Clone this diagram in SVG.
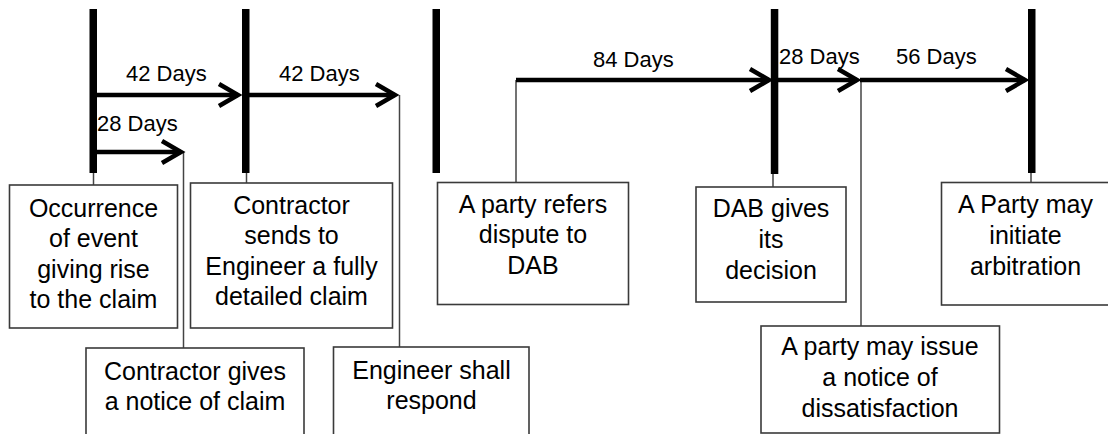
<svg xmlns="http://www.w3.org/2000/svg" width="1108" height="434" viewBox="0 0 1108 434">
<style>
.bar{fill:#000}
.arr{stroke:#000;stroke-width:4.5;fill:none;marker-end:url(#head)}
.link{stroke:#444;stroke-width:1.5;fill:none}
.box{fill:#fff;stroke:#3a3a3a;stroke-width:1.6}
.lbl{font-family:"Liberation Sans",Arial,sans-serif;font-size:22px;fill:#000}
.txt{font-family:"Liberation Sans",Arial,sans-serif;font-size:25px;fill:#000;text-anchor:middle}
</style>
<defs>
<marker id="head" markerUnits="userSpaceOnUse" markerWidth="30" markerHeight="30" viewBox="-25 -15 30 30" refX="0" refY="0" orient="auto" overflow="visible">
<path d="M-19,-11 L0,0 L-19,11" fill="none" stroke="#000" stroke-width="4.5" stroke-linejoin="miter"/>
</marker>
</defs>
<rect width="1108" height="434" fill="#fff"/>
<g id="connectors">
<line class="link" x1="93.5" y1="170" x2="93.5" y2="185"/>
<line class="link" x1="246.5" y1="170" x2="246.5" y2="183"/>
<line class="link" x1="183.5" y1="152" x2="183.5" y2="348"/>
<line class="link" x1="399.5" y1="95" x2="399.5" y2="347"/>
<line class="link" x1="516" y1="80" x2="516" y2="183"/>
<line class="link" x1="773" y1="170" x2="773" y2="187"/>
<line class="link" x1="861" y1="80" x2="861" y2="326"/>
<line class="link" x1="1031" y1="170" x2="1031" y2="182"/>
<line class="arr" x1="93" y1="95" x2="238" y2="95"/>
<line class="arr" x1="245" y1="95" x2="395" y2="95"/>
<line class="arr" x1="93" y1="152" x2="181" y2="152"/>
<line class="arr" x1="516" y1="80" x2="769" y2="80"/>
<line class="arr" x1="775" y1="80" x2="857" y2="80"/>
<line class="arr" x1="860" y1="80" x2="1025" y2="80"/>
<text class="lbl" x="126" y="81">42 Days</text>
<text class="lbl" x="279" y="81">42 Days</text>
<text class="lbl" x="97" y="131">28 Days</text>
<text class="lbl" x="593" y="67">84 Days</text>
<text class="lbl" x="779" y="64">28 Days</text>
<text class="lbl" x="896" y="64">56 Days</text>
</g>
<g id="bars">
<rect class="bar" x="89.5" y="9" width="7.5" height="164"/>
<rect class="bar" x="242" y="9" width="7.5" height="164"/>
<rect class="bar" x="432.5" y="9" width="7.5" height="164"/>
<rect class="bar" x="770.8" y="9" width="7.5" height="165"/>
<rect class="bar" x="1028" y="9" width="7.5" height="164"/>
</g>
<g id="n1">
<rect class="box" x="9.5" y="185" width="168" height="143"/>
<text class="txt" x="93.5" y="216.5">Occurrence</text>
<text class="txt" x="93.5" y="247">of event</text>
<text class="txt" x="93.5" y="277.5">giving rise</text>
<text class="txt" x="93.5" y="308">to the claim</text>
</g>
<g id="n2">
<rect class="box" x="190.5" y="183" width="202" height="145"/>
<text class="txt" x="291.5" y="213.5">Contractor</text>
<text class="txt" x="291.5" y="244">sends to</text>
<text class="txt" x="291.5" y="274.5">Engineer a fully</text>
<text class="txt" x="291.5" y="305">detailed claim</text>
</g>
<g id="n3">
<rect class="box" x="86" y="348" width="218" height="100"/>
<text class="txt" x="195" y="379.5">Contractor gives</text>
<text class="txt" x="195" y="409.5">a notice of claim</text>
</g>
<g id="n4">
<rect class="box" x="333.5" y="347" width="195.5" height="100"/>
<text class="txt" x="431.5" y="378.5">Engineer shall</text>
<text class="txt" x="431.5" y="408.5">respond</text>
</g>
<g id="n5">
<rect class="box" x="437.5" y="182.5" width="191" height="122"/>
<text class="txt" x="533" y="212.5">A party refers</text>
<text class="txt" x="533" y="243">dispute to</text>
<text class="txt" x="533" y="273.5">DAB</text>
</g>
<g id="n6">
<rect class="box" x="696" y="187" width="150" height="115"/>
<text class="txt" x="771" y="216.5">DAB gives</text>
<text class="txt" x="771" y="247.5">its</text>
<text class="txt" x="771" y="278.5">decision</text>
</g>
<g id="n7">
<rect class="box" x="761" y="326" width="238.5" height="107"/>
<text class="txt" x="880" y="355">A party may issue</text>
<text class="txt" x="880" y="386">a notice of</text>
<text class="txt" x="880" y="416.5">dissatisfaction</text>
</g>
<g id="n8">
<rect class="box" x="941.5" y="182.5" width="170" height="122.5"/>
<text class="txt" x="1025.5" y="212.5">A Party may</text>
<text class="txt" x="1025.5" y="243.5">initiate</text>
<text class="txt" x="1025.5" y="274.5">arbitration</text>
</g>
</svg>
